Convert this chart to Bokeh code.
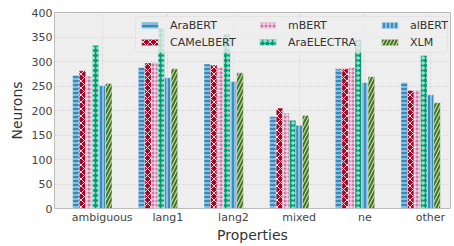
from bokeh.plotting import figure
from bokeh.models import FixedTicker, Range1d, Legend, LegendItem, BoxAnnotation
from bokeh.embed import file_html
from bokeh.resources import INLINE

categories = ["ambiguous", "lang1", "lang2", "mixed", "ne", "other"]
models = ["AraBERT", "CAMeLBERT", "mBERT", "AraELECTRA", "alBERT", "XLM"]
arabert = [272, 288, 295, 188, 285, 257]
camelbert = [281, 297, 293, 205, 285, 241]
mbert = [270, 298, 288, 195, 288, 242]
araelectra = [333, 368, 356, 180, 345, 312]
albert = [251, 267, 259, 170, 257, 232]
xlm = [255, 285, 277, 190, 269, 216]
series = [arabert, camelbert, mbert, araelectra, albert, xlm]

colors = ["#348ABD", "#A60628", "#CC79A7", "#009E73", "#3A8CC4", "#467821"]
hatches = ["horizontal_line", "diagonal_cross", "cross", "ring", "vertical_line", "right_diagonal_line"]
scales = [4, 7, 4, 5, 4, 7]

W = 0.1
FONT = "DejaVu Sans"
X0, X1, Y0, Y1 = -0.726, 5.305, 0, 400
FW, FH = 396, 196  # frame size in px

p = figure(width=454, height=246, output_backend="svg", toolbar_location=None,
           x_range=Range1d(X0, X1), y_range=Range1d(Y0, Y1),
           min_border_left=54, min_border_right=4, min_border_top=12, min_border_bottom=38)
p.background_fill_color = "#EEEEEE"
p.border_fill_color = "white"
p.outline_line_color = "#BCBCBC"
p.outline_line_width = 1

renderers = []
xs = list(range(len(categories)))
for k, (name, vals) in enumerate(zip(models, series)):
    r = p.vbar(x=[i + (k - 4) * W for i in xs], top=vals, width=W,
               fill_color=colors[k], line_color="white", line_width=0.4,
               hatch_pattern=hatches[k], hatch_color="white", hatch_alpha=0.85,
               hatch_scale=scales[k], hatch_weight=1)
    renderers.append(r)

p.xaxis.ticker = FixedTicker(ticks=xs)
p.xaxis.major_label_overrides = {i: c for i, c in enumerate(categories)}
p.yaxis.ticker = FixedTicker(ticks=list(range(0, 401, 50)))

for ax in (p.xaxis[0], p.yaxis[0]):
    ax.axis_line_color = None
    ax.major_tick_line_color = None
    ax.minor_tick_line_color = None
    ax.major_tick_out = 0
    ax.major_tick_in = 0
    ax.minor_tick_out = 0
    ax.minor_tick_in = 0
    ax.major_label_text_font = FONT
    ax.major_label_text_font_size = "11px"
    ax.major_label_text_color = "#444444"
    ax.axis_label_text_font = FONT
    ax.axis_label_text_font_size = "14px"
    ax.axis_label_text_font_style = "normal"
    ax.axis_label_text_color = "#333333"
p.xaxis.axis_label = "Properties"
p.yaxis.axis_label = "Neurons"
p.xaxis.major_label_standoff = 2
p.yaxis.major_label_standoff = 2
p.xaxis.axis_label_standoff = 0
p.yaxis.axis_label_standoff = 4

p.xgrid.ticker = FixedTicker(ticks=xs)
for g in (p.xgrid[0], p.ygrid[0]):
    g.grid_line_color = "#C8C8C8"
    g.grid_line_dash = "2 2"
    g.grid_line_width = 0.6

# legend frame (pixel offsets inside the plot frame, converted to data units)
def px_x(px):
    return X0 + px * (X1 - X0) / FW

def px_y(px_from_top):
    return Y1 - px_from_top * (Y1 - Y0) / FH

box = BoxAnnotation(left=px_x(81), right=px_x(393), top=px_y(4), bottom=px_y(40),
                    fill_color="#EEEEEE", fill_alpha=0.8,
                    line_color="#CCCCCC", line_width=1, border_radius=3)
p.add_layout(box)

col_x = [85, 203, 325]
for c in range(3):
    its = [LegendItem(label=models[2 * c + j], renderers=[renderers[2 * c + j]]) for j in range(2)]
    lg = Legend(items=its, location=(col_x[c], 159), orientation="vertical",
                label_text_font=FONT, label_text_font_size="11px", label_text_color="#333333",
                glyph_width=21, glyph_height=8, label_height=14, label_standoff=10,
                spacing=3, padding=0, margin=0,
                background_fill_alpha=0, border_line_color=None)
    p.add_layout(lg)

open("out.html", "w").write(file_html(p, INLINE))
